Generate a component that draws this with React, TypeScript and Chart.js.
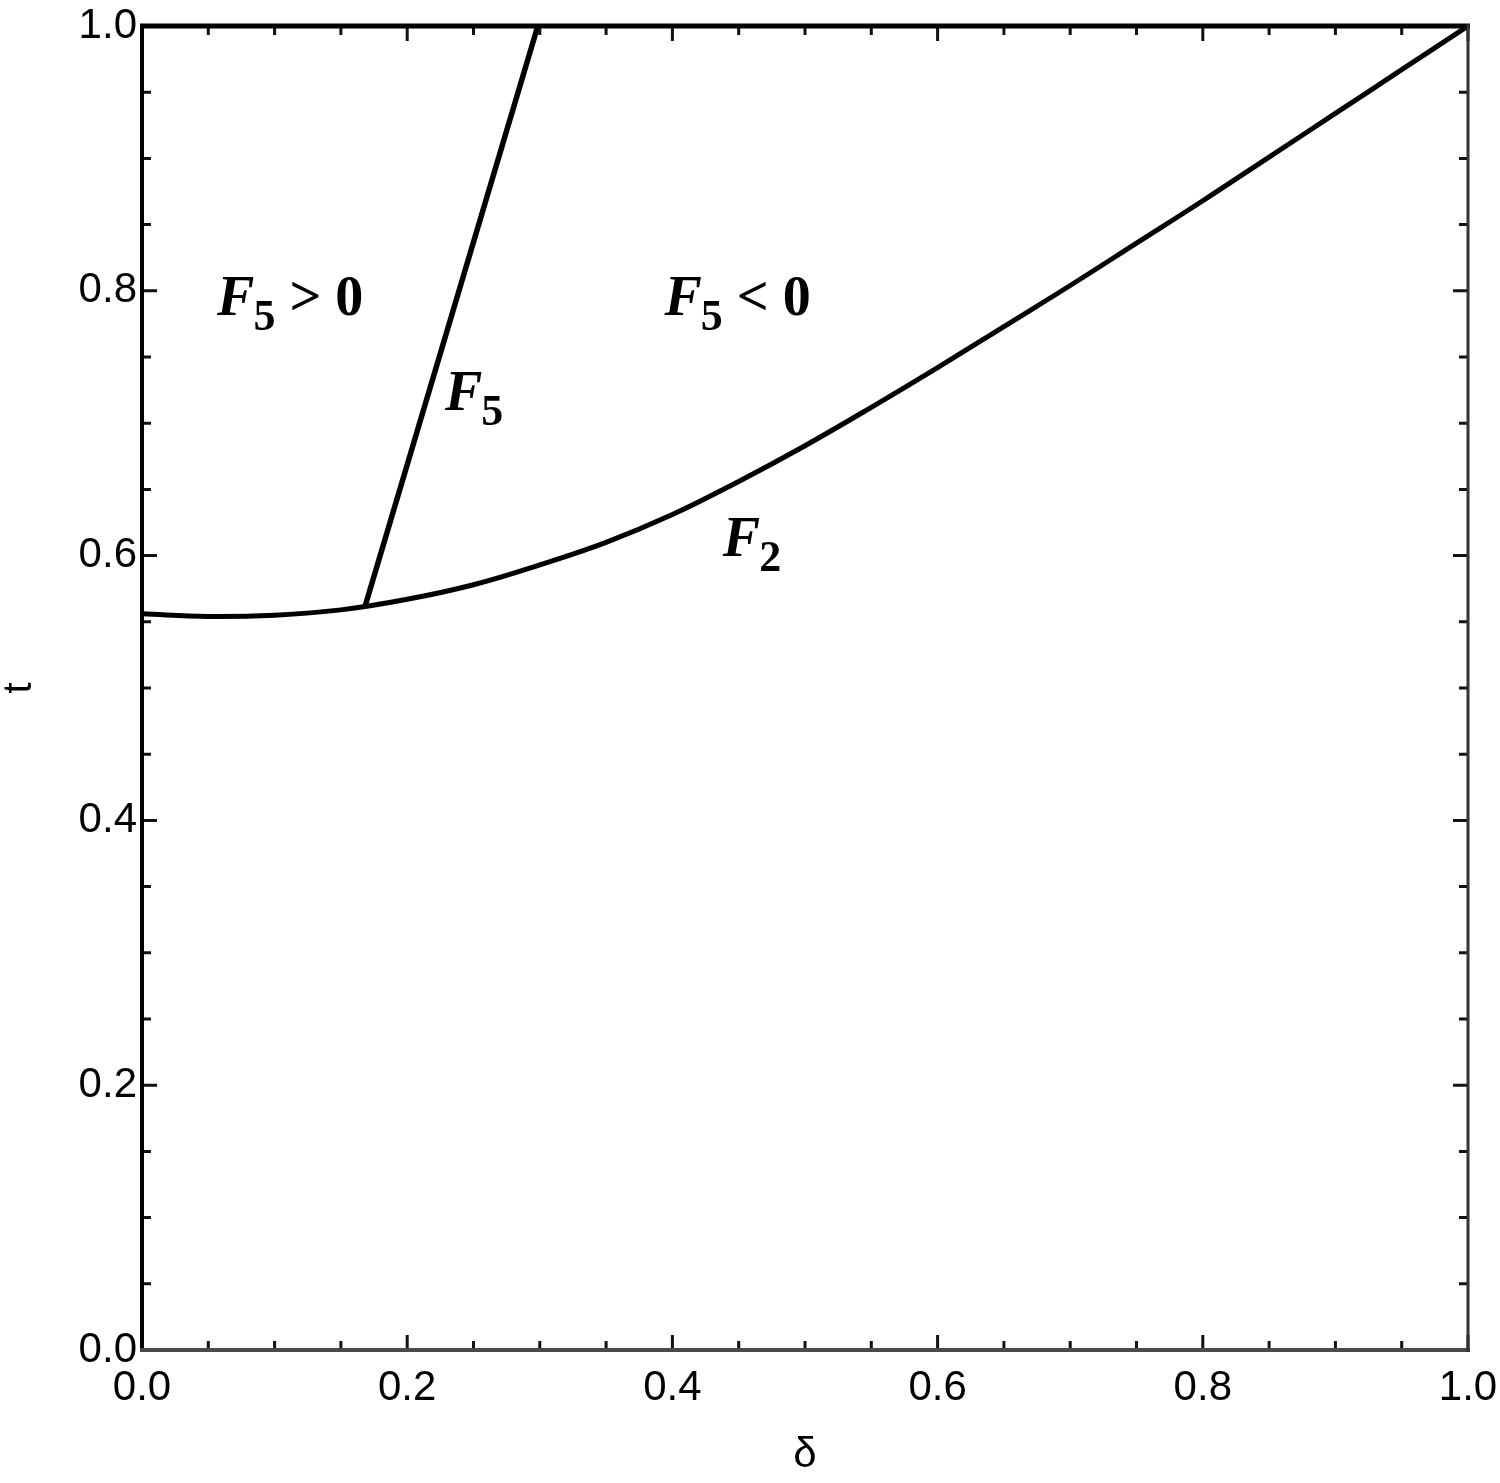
import React, { useEffect, useRef } from "react";
import { Chart, registerables } from "chart.js";

Chart.register(...registerables);

// ---- data ----
const F2_DELTA = [0, 0.05, 0.1, 0.15, 0.2, 0.25, 0.3, 0.35, 0.4, 0.45, 0.5, 0.55, 0.6, 0.65, 0.7, 0.75, 0.8, 0.85, 0.9, 0.95, 1.0];
const F2_T = [0.556, 0.554, 0.555, 0.559, 0.567, 0.578, 0.593, 0.61, 0.631, 0.656, 0.683, 0.712, 0.742, 0.773, 0.804, 0.836, 0.868, 0.901, 0.934, 0.967, 1.0];
const F5_DELTA = [0.168, 0.2985];
const F5_T = [0.561, 1.0];

const MINOR_TICKS = [0, 0.05, 0.1, 0.15, 0.2, 0.25, 0.3, 0.35, 0.4, 0.45, 0.5, 0.55, 0.6, 0.65, 0.7, 0.75, 0.8, 0.85, 0.9, 0.95, 1.0];
const MAJOR_TICKS = [0, 0.2, 0.4, 0.6, 0.8, 1.0];

// annotation labels: main text, subscript, remainder, anchor (data units)
const LABEL_MAIN = ["F", "F", "F", "F"];
const LABEL_SUB = ["5", "5", "5", "2"];
const LABEL_REST = [" > 0", "", " < 0", ""];
const LABEL_DELTA = [0.0566, 0.2285, 0.394, 0.438];
const LABEL_T = [0.782, 0.71, 0.782, 0.6];

const X_TITLE = "δ";
const Y_TITLE = "t";

const framePlugin = {
  id: "frameTicks",
  afterDatasetsDraw(chart: any) {
    const { ctx, chartArea: a, scales } = chart;
    const xs = scales.x;
    const ys = scales.y;
    ctx.save();
    // ticks
    ctx.strokeStyle = "#111";
    ctx.lineWidth = 3;
    ctx.lineCap = "butt";
    MINOR_TICKS.forEach((v) => {
      const major = MAJOR_TICKS.some((m) => Math.abs(m - v) < 1e-9);
      const len = major ? 15 : 9;
      const px = xs.getPixelForValue(v);
      const py = ys.getPixelForValue(v);
      ctx.beginPath();
      ctx.moveTo(px, a.bottom);
      ctx.lineTo(px, a.bottom - len);
      ctx.moveTo(px, a.top);
      ctx.lineTo(px, a.top + len);
      ctx.moveTo(a.left, py);
      ctx.lineTo(a.left + len, py);
      ctx.moveTo(a.right, py);
      ctx.lineTo(a.right - len, py);
      ctx.stroke();
    });
    // frame
    const line = (x1: number, y1: number, x2: number, y2: number, w: number, c: string) => {
      ctx.beginPath();
      ctx.strokeStyle = c;
      ctx.lineWidth = w;
      ctx.moveTo(x1, y1);
      ctx.lineTo(x2, y2);
      ctx.stroke();
    };
    line(a.left - 2, a.top, a.right + 2, a.top, 5, "#000");
    line(a.left, a.top - 2, a.left, a.bottom + 2, 4, "#000");
    line(a.left - 2, a.bottom, a.right + 2, a.bottom, 4, "#4a4a4a");
    line(a.right, a.top - 2, a.right, a.bottom + 2, 3, "#333");

    // annotations
    ctx.fillStyle = "#000";
    ctx.textBaseline = "alphabetic";
    ctx.textAlign = "left";
    const mainFont = "italic bold 56px 'Liberation Serif', 'Times New Roman', serif";
    const subFont = "bold 44px 'Liberation Serif', 'Times New Roman', serif";
    const restFont = "bold 56px 'Liberation Serif', 'Times New Roman', serif";
    LABEL_MAIN.forEach((m, i) => {
      let x = xs.getPixelForValue(LABEL_DELTA[i]);
      const y = ys.getPixelForValue(LABEL_T[i]);
      ctx.font = mainFont;
      ctx.fillText(m, x, y);
      x += ctx.measureText(m).width - 1;
      ctx.font = subFont;
      ctx.fillText(LABEL_SUB[i], x, y + 15);
      x += ctx.measureText(LABEL_SUB[i]).width;
      if (LABEL_REST[i]) {
        ctx.font = restFont;
        ctx.fillText(LABEL_REST[i], x, y);
      }
    });
    ctx.restore();
  },
};

export default function App() {
  const ref = useRef<HTMLCanvasElement | null>(null);
  useEffect(() => {
    if (!ref.current) return;
    const tickFont = { family: "'Liberation Sans', Arial, sans-serif", size: 42, lineHeight: 1.2 };
    const chart = new Chart(ref.current, {
      type: "scatter",
      data: {
        datasets: [
          {
            label: "F2",
            data: F2_DELTA.map((d, i) => ({ x: d, y: F2_T[i] })),
            showLine: true,
            borderColor: "#000",
            borderWidth: 5,
            pointRadius: 0,
            tension: 0.4,
          },
          {
            label: "F5",
            data: F5_DELTA.map((d, i) => ({ x: d, y: F5_T[i] })),
            showLine: true,
            borderColor: "#000",
            borderWidth: 5.5,
            pointRadius: 0,
          },
        ],
      },
      options: {
        animation: false,
        responsive: false,
        events: [],
        layout: { padding: { top: 26, right: 32, left: 0, bottom: 0 } },
        plugins: { legend: { display: false }, tooltip: { enabled: false } },
        scales: {
          x: {
            type: "linear",
            min: 0,
            max: 1,
            afterFit: (s: any) => {
              s.height = 133;
              s.paddingLeft = 0;
              s.paddingRight = 0;
            },
            border: { display: false },
            grid: { display: false, drawTicks: false, tickLength: 0 },
            ticks: {
              stepSize: 0.2,
              padding: 13,
              color: "#000",
              font: tickFont,
              maxRotation: 0,
              callback: (v: any) => Number(v).toFixed(1),
            },
            title: {
              display: true,
              text: X_TITLE,
              color: "#000",
              font: { family: "'Liberation Sans', Arial, sans-serif", size: 42, lineHeight: 1 },
              padding: { top: 0, bottom: 7 },
            },
          },
          y: {
            type: "linear",
            min: 0,
            max: 1,
            afterFit: (s: any) => {
              s.width = 142;
              s.paddingTop = 0;
              s.paddingBottom = 0;
            },
            border: { display: false },
            grid: { display: false, drawTicks: false, tickLength: 0 },
            ticks: {
              stepSize: 0.2,
              padding: 5,
              color: "#000",
              font: tickFont,
              callback: (v: any) => Number(v).toFixed(1),
            },
            title: {
              display: true,
              text: Y_TITLE,
              color: "#000",
              font: { family: "'Liberation Sans', Arial, sans-serif", size: 40, lineHeight: 1 },
              padding: 0,
            },
          },
        },
      },
      plugins: [framePlugin],
    } as any);
    return () => chart.destroy();
  }, []);
  return (
    <div style={{ position: "fixed", left: 0, top: 0, width: 1500, height: 1483, background: "#fff" }}>
      <canvas ref={ref} width={1500} height={1483} style={{ width: 1500, height: 1483, display: "block" }} />
    </div>
  );
}
